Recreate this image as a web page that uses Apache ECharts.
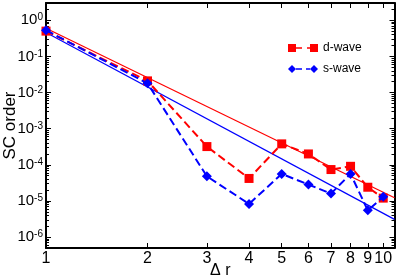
<!DOCTYPE html>
<html><head><meta charset="utf-8">
<script src="https://cdn.jsdelivr.net/npm/echarts@6/dist/echarts.min.js"></script>
<style>html,body{margin:0;padding:0;background:#fff}#c{width:399px;height:280px}</style>
</head><body><div id="c"></div>
<script>
// ---- data ----
const distances = [1, 2, 3, 4, 5, 6, 7, 8, 9, 10];
const dWave = [0.5, 0.021, 3.2e-4, 4.2e-5, 3.8e-4, 2.0e-4, 7.4e-5, 9.1e-5, 2.4e-5, 1.2e-5];
const sWave = [0.53, 0.018, 4.8e-5, 8.3e-6, 5.6e-5, 2.85e-5, 1.6e-5, 5.6e-5, 5.5e-6, 1.3e-5];
const fitX = [1, 10.8];
const dFit = [0.6, 1.23e-5];
const sFit = [0.46, 3.1e-6];
const xTickLabels = [1, 2, 3, 4, 5, 6, 7, 8, 9, 10];
const yTickValues = [1e-6, 1e-5, 1e-4, 1e-3, 1e-2, 1e-1, 1];
const seriesNames = ['d-wave', 's-wave'];
const xLabel = 'Δ r';
const yLabel = 'SC order';

const X_MIN = 1, X_MAX = 10.8, Y_MIN = 5e-7, Y_MAX = 3;
const FONT = 'Liberation Sans';

const yMinor = [];
for (let k = -7; k <= 0; k++) {
  for (let m = 2; m <= 9; m++) {
    const v = m * Math.pow(10, k);
    if (v > Y_MIN && v < Y_MAX) yMinor.push(v);
  }
}

const chart = echarts.init(document.getElementById('c'), null, {renderer: 'canvas'});

const axisLine = {show: true, lineStyle: {color: '#000', width: 2}};
function xAxis(pos, labels) {
  return {
    type: 'log', logBase: 10, position: pos, min: X_MIN, max: X_MAX,
    axisLine: axisLine,
    splitLine: {show: false},
    axisTick: {show: true, inside: true, length: 5, lineStyle: {color: '#000', width: 1}, customValues: xTickLabels.slice(1)},
    axisLabel: labels ? {show: true, customValues: xTickLabels, fontSize: 16, fontFamily: FONT, color: '#000', margin: 3} : {show: false},
    minorTick: {show: false}
  };
}
function yAxis(pos, labels, minor) {
  return {
    type: 'log', logBase: 10, position: pos, min: Y_MIN, max: Y_MAX,
    axisLine: minor ? {show: false} : axisLine,
    splitLine: {show: false},
    axisTick: {show: true, inside: true, length: minor ? 3 : 5, lineStyle: {color: '#000', width: 1}, customValues: minor ? yMinor : yTickValues},
    axisLabel: labels ? {
      show: true, customValues: yTickValues, margin: 3,
      formatter: v => '{b|10}{s|' + Math.round(Math.log10(v)) + '}',
      rich: {
        b: {fontSize: 15, fontFamily: FONT, color: '#000', lineHeight: 15, verticalAlign: 'bottom'},
        s: {fontSize: 10, fontFamily: FONT, color: '#000', lineHeight: 10, verticalAlign: 'top', padding: [0, 0, 12, 0]}
      }
    } : {show: false},
    name: labels ? yLabel : '',
    nameLocation: 'middle', nameGap: 27, nameRotate: 90, nameMoveOverlap: false,
    nameTextStyle: {fontSize: 17, fontFamily: FONT, color: '#000'}
  };
}

const xs = [xAxis('bottom', true), xAxis('top', false)];
xs[0].name = xLabel;
xs[0].nameLocation = 'middle';
xs[0].nameGap = 15;
xs[0].nameMoveOverlap = false;
xs[0].nameTextStyle = {fontSize: 16, fontFamily: FONT, color: '#000', verticalAlign: 'top'};

const option = {
  animation: false,
  backgroundColor: '#fff',
  grid: {left: 46, right: 4.5, top: 3, bottom: 32, containLabel: false, outerBoundsMode: 'none'},
  legend: {
    data: [
      {name: seriesNames[0], icon: 'path://M0,0h8v8h-8z M8,3.2h6v1.6h-6z M19,3.2h3v1.6h-3z M22,0h8v8h-8z'},
      {name: seriesNames[1], icon: 'path://M0,4L4,0L8,4L4,8z M8,3.2h6v1.6h-6z M18,3.2h4v1.6h-4z M22,4L26,0L30,4L26,8z'}
    ],
    orient: 'vertical', left: 283, top: 37, itemWidth: 30, itemHeight: 8, itemGap: 9,
    textStyle: {fontSize: 12, fontFamily: FONT, color: '#000'},
    selectedMode: false
  },
  xAxis: xs,
  yAxis: [yAxis('left', true, false), yAxis('right', false, false), yAxis('left', false, true), yAxis('right', false, true)],
  series: [
    {name: 'd-fit', type: 'line', data: fitX.map((x, i) => [x, dFit[i]]), showSymbol: false, symbol: 'none',
     lineStyle: {color: '#ff0000', width: 1.2}, silent: true, z: 1},
    {name: 's-fit', type: 'line', data: fitX.map((x, i) => [x, sFit[i]]), showSymbol: false, symbol: 'none',
     lineStyle: {color: '#0000ff', width: 1.2}, silent: true, z: 1},
    {name: seriesNames[0], type: 'line', data: distances.map((x, i) => [x, dWave[i]]),
     symbol: 'rect', symbolSize: 9, itemStyle: {color: '#ff0000'},
     lineStyle: {color: '#ff0000', width: 2, type: [8, 4]}, z: 3},
    {name: seriesNames[1], type: 'line', data: distances.map((x, i) => [x, sWave[i]]),
     symbol: 'diamond', symbolSize: 10, itemStyle: {color: '#0000ff'},
     lineStyle: {color: '#0000ff', width: 2, type: [8, 4]}, z: 4}
  ]
};
chart.setOption(option);
</script>
</body></html>
